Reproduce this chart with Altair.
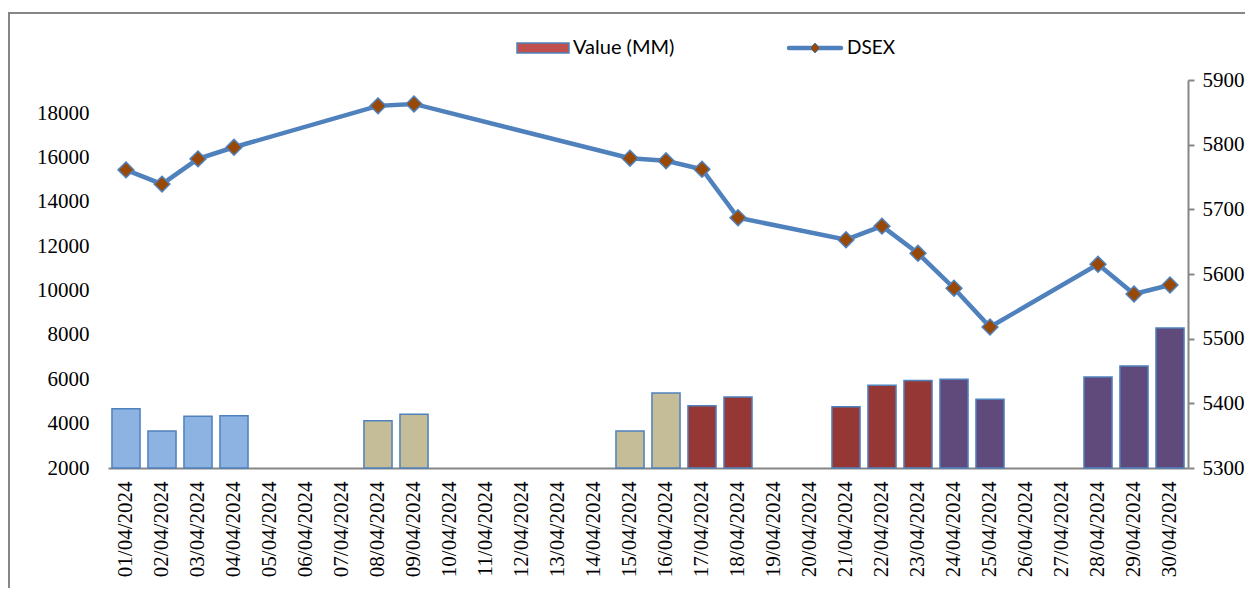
import altair as alt
import pandas as pd

dates = ["01/04/2024", "02/04/2024", "03/04/2024", "04/04/2024", "05/04/2024",
         "06/04/2024", "07/04/2024", "08/04/2024", "09/04/2024", "10/04/2024",
         "11/04/2024", "12/04/2024", "13/04/2024", "14/04/2024", "15/04/2024",
         "16/04/2024", "17/04/2024", "18/04/2024", "19/04/2024", "20/04/2024",
         "21/04/2024", "22/04/2024", "23/04/2024", "24/04/2024", "25/04/2024",
         "26/04/2024", "27/04/2024", "28/04/2024", "29/04/2024", "30/04/2024"]

value_mm = [4670, 3670, 4330, 4360, None, None, None, 4130, 4420, None,
            None, None, None, None, 3670, 5380, 4810, 5200, None, None,
            4760, 5730, 5950, 6000, 5100, None, None, 6100, 6600, 8320]

dsex = [5761, 5739, 5778, 5796, None, None, None, 5860, 5863, None,
        None, None, None, None, 5779, 5775, 5762, 5687, None, None,
        5653, 5674, 5632, 5578, 5518, None, None, 5615, 5569, 5583]

bar_group = ["A", "A", "A", "A", "", "", "", "B", "B", "",
             "", "", "", "", "B", "B", "C", "C", "", "",
             "C", "C", "C", "D", "D", "", "", "D", "D", "D"]

group_names = ["A", "B", "C", "D"]
group_colors = ["#8DB3E2", "#C4BD97", "#953735", "#604A7B"]

left_ticks = [2000, 4000, 6000, 8000, 10000, 12000, 14000, 16000, 18000]
right_ticks = [5300, 5400, 5500, 5600, 5700, 5800, 5900]

df = pd.DataFrame({"date": dates, "value": value_mm, "dsex": dsex, "group": bar_group})

SERIF = "Liberation Serif"
GRAY = "#868686"

x_axis = alt.Axis(labelAngle=-90, labelFont=SERIF, labelFontSize=21, labelColor="#000000",
                  labelPadding=13, ticks=False, domainColor=GRAY, domainWidth=2,
                  grid=False, title=None)
x_enc = alt.X("date:N", sort=dates,
              scale=alt.Scale(domain=dates, paddingInner=0.22, paddingOuter=0.11),
              axis=x_axis)

bars = alt.Chart(df).transform_filter("isValid(datum.value)").mark_bar(
    stroke="#4F81BD", strokeWidth=1.5
).encode(
    x=x_enc,
    y=alt.Y("value:Q", scale=alt.Scale(domain=[2000, 19500], zero=False, nice=False),
            axis=alt.Axis(values=left_ticks, format="d", domain=False, ticks=False, grid=False,
                          labelFont=SERIF, labelFontSize=21, labelColor="#000000",
                          labelPadding=19, title=None, orient="left")),
    y2=alt.datum(2000),
    color=alt.Color("group:N", scale=alt.Scale(domain=group_names, range=group_colors),
                    legend=None),
)

line_base = alt.Chart(df).transform_filter("isValid(datum.dsex)").encode(
    x=x_enc,
    y=alt.Y("dsex:Q", scale=alt.Scale(domain=[5300, 5900], zero=False, nice=False),
            axis=alt.Axis(values=right_ticks, format="d", orient="right", domainColor=GRAY,
                          domainWidth=2, tickColor=GRAY, tickWidth=2, tickSize=6, grid=False,
                          labelFont=SERIF, labelFontSize=21, labelColor="#000000",
                          labelPadding=8, title=None)),
)
line = line_base.mark_line(color="#4F81BD", strokeWidth=4.5)
points = line_base.mark_point(shape="diamond", filled=True, fill="#984807", stroke="#4F81BD",
                              strokeWidth=1.5, size=250, opacity=1)

leg_bar = pd.DataFrame({"label": ["Value (MM)"]})
leg_line = pd.DataFrame({"label": ["DSEX"]})

leg_rect = alt.Chart(leg_bar).mark_rect(fill="#C0504D", stroke="#4F81BD", strokeWidth=1.5).encode(
    x=alt.value(409), x2=alt.value(461), y=alt.value(-37), y2=alt.value(-27))
leg_text1 = alt.Chart(leg_bar).mark_text(align="left", baseline="middle", font="Lato",
                                         fontSize=20, color="#000000").encode(
    x=alt.value(465), y=alt.value(-32), text="label:N")
leg_rule = alt.Chart(leg_line).mark_rule(color="#4F81BD", strokeWidth=4.5, strokeCap="round").encode(
    x=alt.value(681), x2=alt.value(733), y=alt.value(-32))
leg_pt = alt.Chart(leg_line).mark_point(shape="diamond", filled=True, fill="#984807",
                                        stroke="#4F81BD", strokeWidth=1, size=100, opacity=1).encode(
    x=alt.value(707), y=alt.value(-32))
leg_text2 = alt.Chart(leg_line).mark_text(align="left", baseline="middle", font="Lato",
                                          fontSize=19, color="#000000").encode(
    x=alt.value(739), y=alt.value(-32), text="label:N")

border = alt.Chart(leg_bar).mark_rect(fillOpacity=0, stroke=GRAY, strokeWidth=2).encode(
    x=alt.value(-99), x2=alt.value(1300), y=alt.value(-67), y2=alt.value(700))

chart = alt.layer(
    border,
    bars,
    alt.layer(line, points),
    leg_rect, leg_text1, leg_rule, leg_pt, leg_text2,
).resolve_scale(y="independent", color="independent").properties(
    width=1080, height=388,
    autosize=alt.AutoSizeParams(type="none"),
    padding={"left": 100, "top": 72, "right": 57, "bottom": 120},
    background="#ffffff",
).configure_view(strokeWidth=0)

chart.save("out.html", embed_options={"renderer": "svg", "actions": False})
